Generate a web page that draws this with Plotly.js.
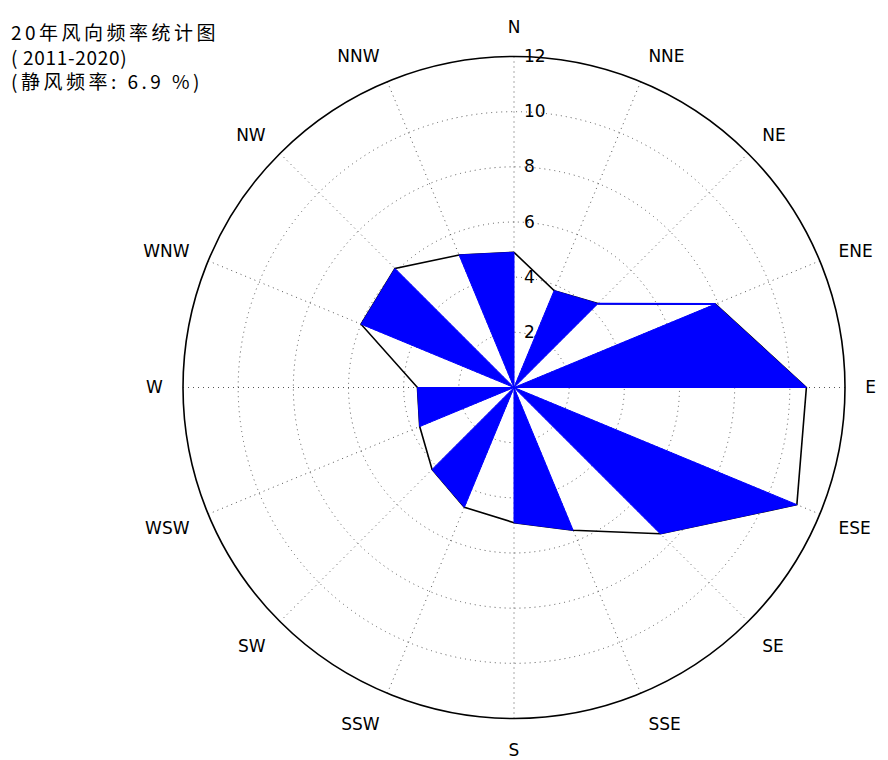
<!DOCTYPE html>
<html>
<head>
<meta charset="utf-8">
<script src="https://cdn.plot.ly/plotly-3.0.1.min.js"></script>
<style>html,body{margin:0;padding:0;background:#fff;}#chart{width:888px;height:760px;}</style>
</head>
<body>
<div id="chart"></div>
<script>
// Directions, clockwise from North
const directions = ["N","NNE","NE","ENE","E","ESE","SE","SSE","S","SSW","SW","WSW","W","WNW","NW","NNW"];
// Wind direction frequency (%)
const frequency = [4.9, 3.8, 4.3, 7.9, 10.6, 11.1, 7.5, 5.6, 4.9, 4.7, 4.2, 3.7, 3.5, 6.0, 6.1, 5.2];
const radialTicks = [2, 4, 6, 8, 10, 12];
const titleLines = ["20年风向频率统计图", "( 2011-2020)", "(静风频率: 6.9 %)"];
const titleSpacing = [3.5, 0.7, 3.5];

const step = 360 / directions.length;
const angles = directions.map((d, i) => i * step);

// closed outline through all direction points
const outlineR = frequency.concat([frequency[0]]);
const outlineT = angles.concat([angles[0]]);

// alternating filled triangles: centre -> point i -> point i-1 -> centre
const triR = [], triT = [];
for (let i = 0; i < directions.length; i += 2) {
  const j = (i - 1 + directions.length) % directions.length;
  triR.push(0, frequency[i], frequency[j], 0, null);
  triT.push(angles[i], angles[i], angles[j], angles[j], null);
}

const traces = [
  {type: "scatterpolar", mode: "lines", r: outlineR, theta: outlineT,
   line: {color: "#000000", width: 1.6}, hoverinfo: "skip"},
  {type: "scatterpolar", mode: "lines", r: triR, theta: triT, fill: "toself",
   fillcolor: "#0000ff", line: {color: "#0000ff", width: 1}, connectgaps: false, hoverinfo: "skip"},
  {type: "scatterpolar", mode: "lines", r: [frequency[2], frequency[3]], theta: [angles[2], angles[3]],
   line: {color: "#0000ff", width: 2}, hoverinfo: "skip"}
];

const titleText = titleLines.map((t, i) =>
  '<span style="letter-spacing:' + titleSpacing[i] + 'px">' + t + '</span>').join("<br>");

const layout = {
  width: 888, height: 760,
  margin: {l: 0, r: 0, t: 0, b: 0},
  paper_bgcolor: "#ffffff",
  showlegend: false,
  font: {family: "DejaVu Sans", color: "#000000", size: 17},
  annotations: [{
    text: titleText, showarrow: false,
    xref: "paper", yref: "paper",
    x: 9/888, xanchor: "left", y: 1 - 16/760, yanchor: "top", align: "left",
    font: {family: "Noto Sans CJK SC", size: 19, color: "#000000"}
  }],
  polar: {
    domain: {x: [183/888, 845/888], y: [41.5/760, 703.5/760]},
    bgcolor: "#ffffff",
    angularaxis: {
      direction: "clockwise", rotation: 90,
      tickmode: "array", tickvals: angles, ticktext: directions,
      ticks: "outside", ticklen: 16, tickcolor: "rgba(0,0,0,0)",
      showline: true, linecolor: "#000000", linewidth: 1.6,
      showgrid: true, gridcolor: "#555555", gridwidth: 1, griddash: "1px,4px",
      tickfont: {family: "DejaVu Sans", size: 17, color: "#000000"}
    },
    radialaxis: {
      range: [0, 12], angle: 90, side: "clockwise", tickangle: 90,
      tickmode: "array", tickvals: radialTicks, ticktext: radialTicks.map(String),
      ticks: "outside", ticklen: 6, tickcolor: "rgba(0,0,0,0)",
      showline: false, showgrid: true, gridcolor: "#555555", gridwidth: 1, griddash: "1px,4px",
      tickfont: {family: "DejaVu Sans", size: 17, color: "#000000"}
    }
  }
};

Plotly.newPlot("chart", traces, layout, {displayModeBar: false, staticPlot: true});
</script>
</body>
</html>
